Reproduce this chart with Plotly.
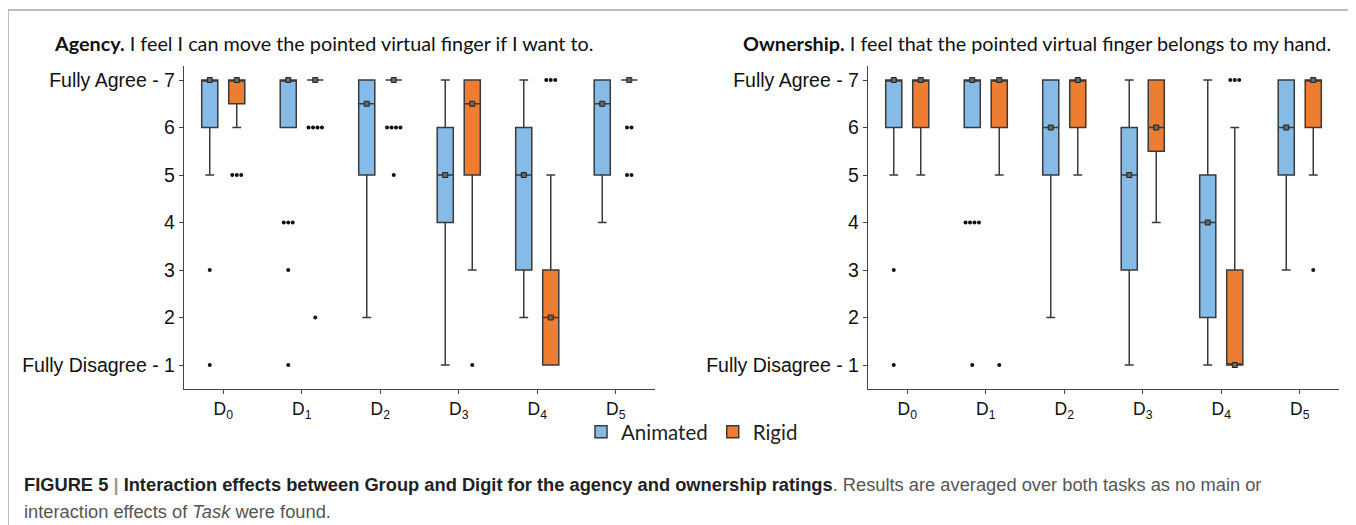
import plotly.graph_objects as go

# digit labels on the x axis
digits = ["D<sub>0</sub>", "D<sub>1</sub>", "D<sub>2</sub>", "D<sub>3</sub>", "D<sub>4</sub>", "D<sub>5</sub>"]

y_tickvals = [1, 2, 3, 4, 5, 6, 7]
y_ticktext = ["Fully Disagree - 1", "2", "3", "4", "5", "6", "Fully Agree - 7"]

# box stats per digit: (lower whisker, q1, median, q3, upper whisker)
agency_animated = [(5, 6, 7, 7, 7), (6, 6, 7, 7, 7), (2, 5, 6.5, 7, 7),
                   (1, 4, 5, 6, 7), (2, 3, 5, 6, 7), (4, 5, 6.5, 7, 7)]
agency_rigid = [(6, 6.5, 7, 7, 7), (7, 7, 7, 7, 7), (7, 7, 7, 7, 7),
                (3, 5, 6.5, 7, 7), (1, 1, 2, 3, 5), (7, 7, 7, 7, 7)]
ownership_animated = [(5, 6, 7, 7, 7), (6, 6, 7, 7, 7), (2, 5, 6, 7, 7),
                      (1, 3, 5, 6, 7), (1, 2, 4, 5, 7), (3, 5, 6, 7, 7)]
ownership_rigid = [(5, 6, 7, 7, 7), (5, 6, 7, 7, 7), (5, 6, 7, 7, 7),
                   (4, 5.5, 6, 7, 7), (1, 1, 1, 3, 6), (5, 6, 7, 7, 7)]

# outliers: (digit index, rating, number of participants)
agency_animated_out = [(0, 3, 1), (0, 1, 1), (1, 4, 3), (1, 3, 1), (1, 1, 1)]
agency_rigid_out = [(0, 5, 3), (1, 6, 4), (1, 2, 1), (2, 6, 4), (2, 5, 1),
                    (3, 1, 1), (4, 7, 3), (5, 6, 2), (5, 5, 2)]
ownership_animated_out = [(0, 3, 1), (0, 1, 1), (1, 4, 4), (1, 1, 1)]
ownership_rigid_out = [(1, 1, 1), (4, 7, 3), (5, 3, 1)]

BLUE = "#85BBE6"
ORANGE = "#ED7D31"
EDGE = "#3a3a3a"
OFFSET = 0.172
BOX_W = 0.205
DOT_STEP = 0.057

# the page body has an 8px margin, so the figure is drawn 8px in
PAD = 8
W, H = 1356 - PAD, 525 - PAD


def px_x(p):
    return (p - PAD) / W


def px_y(p):
    return 1 - (p - PAD) / H


fig = go.Figure()


def add_series(stats, outliers, name, color, side, xaxis, yaxis, legend):
    xs = [i + side * OFFSET for i in range(len(stats))]
    lo, q1, med, q3, hi = zip(*stats)
    fig.add_trace(go.Box(
        x=xs, lowerfence=list(lo), q1=list(q1), median=list(med),
        q3=list(q3), upperfence=list(hi), width=BOX_W,
        name=name, legendgroup=name, showlegend=legend,
        fillcolor=color, line=dict(color=EDGE, width=1.5),
        whiskerwidth=0.55, boxpoints=False, hoverinfo="skip",
        xaxis=xaxis, yaxis=yaxis,
    ))
    fig.add_trace(go.Scatter(
        x=xs, y=list(med), mode="markers", showlegend=False,
        marker=dict(symbol="square", size=5, color="#666",
                    line=dict(color="#222", width=1)),
        hoverinfo="skip", xaxis=xaxis, yaxis=yaxis,
    ))
    dx, dy = [], []
    for d, v, n in outliers:
        for k in range(n):
            dx.append(d + side * OFFSET + (k - (n - 1) / 2) * DOT_STEP)
            dy.append(v)
    fig.add_trace(go.Scatter(
        x=dx, y=dy, mode="markers", showlegend=False,
        marker=dict(size=4, color="#111"),
        hoverinfo="skip", xaxis=xaxis, yaxis=yaxis,
    ))


add_series(agency_animated, agency_animated_out, "Animated", BLUE, -1, "x", "y", True)
add_series(agency_rigid, agency_rigid_out, "Rigid", ORANGE, 1, "x", "y", True)
add_series(ownership_animated, ownership_animated_out, "Animated", BLUE, -1, "x2", "y2", False)
add_series(ownership_rigid, ownership_rigid_out, "Rigid", ORANGE, 1, "x2", "y2", False)

axis_common = dict(showline=True, linecolor="#444", linewidth=1.3, ticks="outside",
                   ticklen=4, tickcolor="#444", showgrid=False, zeroline=False)
xax = dict(range=[-0.5, 5.5], tickvals=list(range(6)), ticktext=digits,
           tickfont=dict(family="Liberation Sans", size=17.5, color="#111"), **axis_common)
yax = dict(range=[0.495, 7.295], tickvals=y_tickvals, ticktext=y_ticktext,
           tickfont=dict(family="Liberation Sans", size=19.5, color="#111"), **axis_common)
ydom = [px_y(389), px_y(66)]

fig.update_layout(
    width=W, height=H,
    margin=dict(l=0, r=0, t=0, b=0),
    paper_bgcolor="white", plot_bgcolor="white",
    xaxis=dict(domain=[px_x(184), px_x(655)], anchor="y", **xax),
    yaxis=dict(domain=ydom, anchor="x", **yax),
    xaxis2=dict(domain=[px_x(868), px_x(1339)], anchor="y2", **xax),
    yaxis2=dict(domain=ydom, anchor="x2", **yax),
    legend=dict(orientation="h", x=px_x(692), xanchor="center", y=px_y(432),
                yanchor="middle", bgcolor="rgba(0,0,0,0)",
                font=dict(family="Lato", size=20.5, color="#222"),
                itemwidth=30, traceorder="normal"),
)

title_font = dict(family="Lato", size=19.8, color="#111")
fig.add_annotation(x=px_x(323), y=px_y(43), xref="paper", yref="paper",
                   text="<b>Agency.</b> I feel I can move the pointed virtual finger if I want to.",
                   showarrow=False, font=title_font, xanchor="center", yanchor="middle")
fig.add_annotation(x=px_x(1037), y=px_y(43), xref="paper", yref="paper",
                   text="<b>Ownership.</b> I feel that the pointed virtual finger belongs to my hand.",
                   showarrow=False, font=title_font, xanchor="center", yanchor="middle")

cap_font = dict(family="Liberation Sans", size=18.3, color="#555")
fig.add_annotation(
    x=px_x(22), y=px_y(484), xref="paper", yref="paper", xanchor="left", yanchor="middle",
    showarrow=False, font=cap_font,
    text=("<b><span style='color:#222'>FIGURE 5</span> <span style='color:#999'>|</span> "
          "<span style='color:#222'>Interaction effects between Group and Digit for the agency "
          "and ownership ratings</span></b>. Results are averaged over both tasks as no main or"),
)
fig.add_annotation(
    x=px_x(22), y=px_y(511), xref="paper", yref="paper", xanchor="left", yanchor="middle",
    showarrow=False, font=cap_font,
    text="interaction effects of <i>Task</i> were found.",
)

# frame around the figure
fig.add_shape(type="rect", xref="paper", yref="paper",
              x0=px_x(8), x1=px_x(1353), y0=-0.1, y1=px_y(10),
              line=dict(color="#a6a6a6", width=1.5))

fig.write_html("out.html")
